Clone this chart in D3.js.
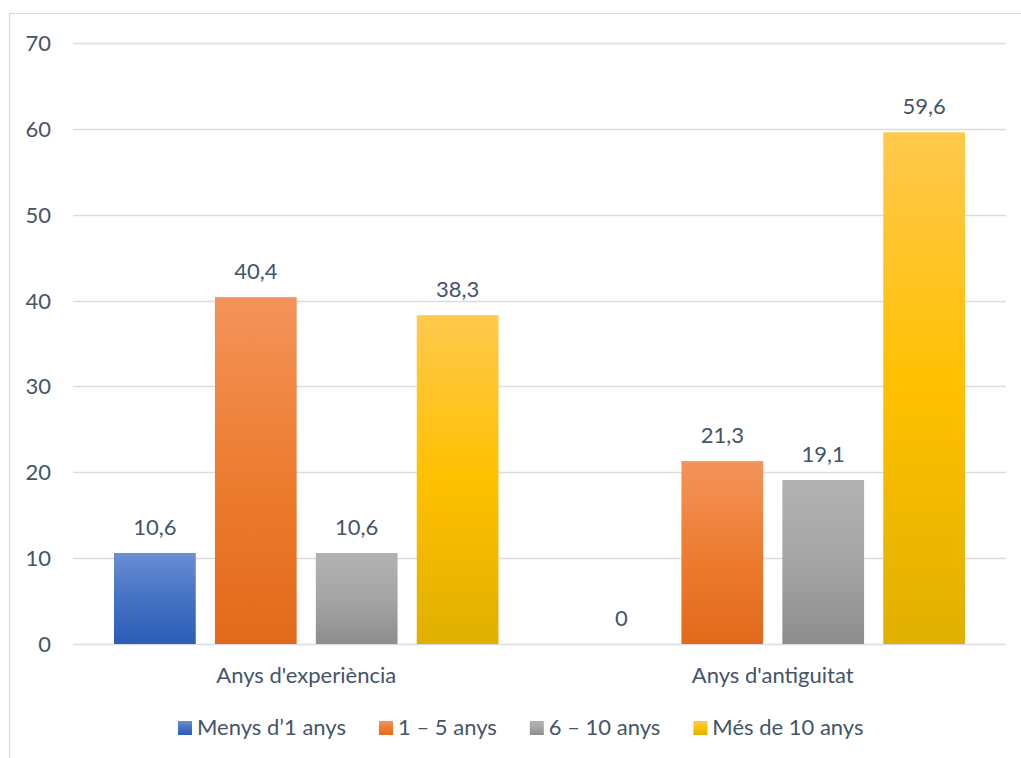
<!doctype html>
<html lang="ca">
  <head>
    <meta charset="UTF-8" />
    <title>Anys d'experiència i d'antiguitat</title>
    <script src="https://d3js.org/d3.v7.min.js"></script>
    <style>
      html,
      body {
        margin: 0;
        padding: 0;
        background: #fff;
        overflow: hidden;
      }
      text {
        font-family: Lato, "Open Sans", sans-serif;
        fill: #44546a;
      }
    </style>
  </head>
  <body>
    <svg id="chart" width="1021" height="758"></svg>

    <script>
      // data
      const categories = ["Anys d'experiència", "Anys d'antiguitat"];
      const seriesNames = ["Menys d’1 anys", "1 – 5 anys", "6 – 10 anys", "Més de 10 anys"];
      const values = [
        [10.6, 0], // Menys d'1 anys
        [40.4, 21.3], // 1 - 5 anys
        [10.6, 19.1], // 6 - 10 anys
        [38.3, 59.6], // Més de 10 anys
      ];
      const yTicks = [0, 10, 20, 30, 40, 50, 60, 70];

      // gradient colours per series: top, middle, bottom
      const colours = [
        ["#6a8fd4", "#4472c4", "#2c5cb6"],
        ["#f4935a", "#ed7d31", "#e2691b"],
        ["#b2b2b2", "#a5a5a5", "#8d8d8d"],
        ["#ffc94d", "#ffc000", "#e0b000"],
      ];

      const svg = d3.select("#chart");
      const plotLeft = 73,
        plotRight = 1006,
        plotTop = 43,
        plotBottom = 644;
      const fontSize = "22px";

      // outer chart border (runs off the right/bottom edge)
      svg.append("rect")
        .attr("x", 9.5)
        .attr("y", 13.5)
        .attr("width", 1040)
        .attr("height", 780)
        .attr("fill", "none")
        .attr("stroke", "#d9d9d9")
        .attr("stroke-width", 1.2);

      const defs = svg.append("defs");
      colours.forEach((c, i) => {
        const g = defs.append("linearGradient")
          .attr("id", "grad" + i)
          .attr("x1", 0).attr("y1", 0)
          .attr("x2", 0).attr("y2", 1);
        g.append("stop").attr("offset", "0%").attr("stop-color", c[0]);
        g.append("stop").attr("offset", "50%").attr("stop-color", c[1]);
        g.append("stop").attr("offset", "100%").attr("stop-color", c[2]);
      });

      const y = d3.scaleLinear().domain([0, 70]).range([plotBottom, plotTop]);
      const x0 = d3.scaleBand().domain(categories).range([plotLeft, plotRight]);
      const x1 = d3.scaleBand()
        .domain(d3.range(seriesNames.length))
        .range([41, x0.bandwidth() - 41])
        .paddingInner(0.19);

      // gridlines
      svg.append("g")
        .selectAll("line")
        .data(yTicks)
        .join("line")
        .attr("x1", plotLeft)
        .attr("x2", plotRight)
        .attr("y1", (d) => Math.round(y(d)) + 0.5)
        .attr("y2", (d) => Math.round(y(d)) + 0.5)
        .attr("stroke", "#d9dde3")
        .attr("stroke-width", 1.5);

      // y tick labels
      svg.append("g")
        .selectAll("text")
        .data(yTicks)
        .join("text")
        .attr("x", 51)
        .attr("y", (d) => y(d) + 8)
        .attr("text-anchor", "end")
        .style("font-size", fontSize)
        .text((d) => d);

      // bars
      const groups = svg.append("g")
        .selectAll("g")
        .data(categories)
        .join("g")
        .attr("transform", (d) => `translate(${x0(d)},0)`);

      groups.each(function (cat, ci) {
        const g = d3.select(this);
        const rows = seriesNames.map((s, si) => ({ si, v: values[si][ci] }));
        g.selectAll("rect")
          .data(rows)
          .join("rect")
          .attr("x", (d) => x1(d.si))
          .attr("width", x1.bandwidth())
          .attr("y", (d) => y(d.v))
          .attr("height", (d) => y(0) - y(d.v))
          .attr("fill", (d) => `url(#grad${d.si})`);

        g.selectAll("text")
          .data(rows)
          .join("text")
          .attr("x", (d) => x1(d.si) + x1.bandwidth() / 2)
          .attr("y", (d) => y(d.v) - 18)
          .attr("text-anchor", "middle")
          .style("font-size", fontSize)
          .text((d) => String(d.v).replace(".", ","));
      });

      // category labels
      svg.append("g")
        .selectAll("text")
        .data(categories)
        .join("text")
        .attr("x", (d) => x0(d) + x0.bandwidth() / 2)
        .attr("y", 683)
        .attr("text-anchor", "middle")
        .style("font-size", fontSize)
        .text((d) => d);

      // legend
      const legend = svg.append("g").attr("transform", "translate(178,721)");
      let lx = 0;
      seriesNames.forEach((name, i) => {
        legend.append("rect")
          .attr("x", lx)
          .attr("y", 0)
          .attr("width", 14)
          .attr("height", 14)
          .attr("fill", `url(#grad${i})`);
        const t = legend.append("text")
          .attr("x", lx + 19)
          .attr("y", 14)
          .style("font-size", "22px")
          .text(name);
        lx += 19 + t.node().getComputedTextLength() + 33;
      });
    </script>
  </body>
</html>
